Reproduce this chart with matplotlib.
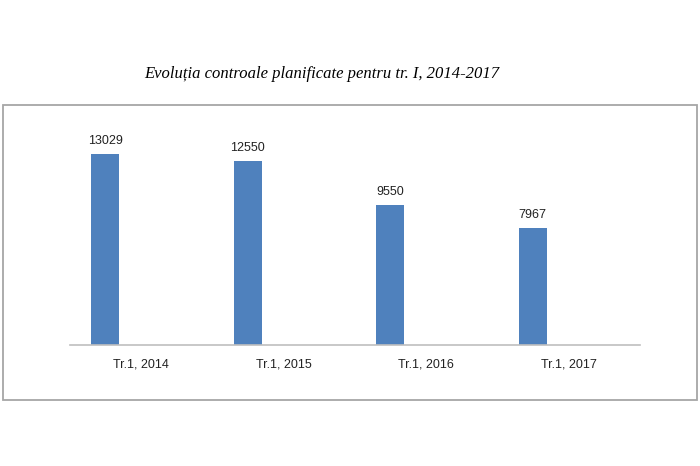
import numpy as np
import matplotlib
matplotlib.use("Agg")
import matplotlib.pyplot as plt
from matplotlib.patches import Rectangle

categories = ["Tr.1, 2014", "Tr.1, 2015", "Tr.1, 2016", "Tr.1, 2017"]
values = [13029, 12550, 9550, 7967]

fig = plt.figure(figsize=(7, 4.66), dpi=100)
fig.patch.set_facecolor("white")

# outer chart frame
fig.patches.append(Rectangle((3 / 700, 1 - 400 / 466), 694 / 700, 295 / 466,
                             transform=fig.transFigure, fill=False,
                             edgecolor="#a6a6a6", linewidth=1.3))

fig.text(322 / 700, 1 - 74 / 466,
         "Evoluția controale planificate pentru tr. I, 2014-2017",
         ha="center", va="center", fontsize=12, style="italic",
         family=["Liberation Serif", "DejaVu Serif"])

ax = fig.add_axes([70 / 700, 1 - 345 / 466, 570 / 700, 205 / 466])
x = np.arange(len(categories))
bars = ax.bar(x - 0.253, values, width=0.197, color="#4f81bd")
for xi, v in zip(x - 0.253, values):
    ax.text(xi, v + 500, str(v), ha="center", va="bottom", fontsize=9,
            family="Liberation Sans", color="#222222")

ax.set_xlim(-0.5, 3.5)
ax.set_ylim(0, 14000)
ax.set_xticks(x)
ax.set_xticklabels(categories, fontsize=9, family="Liberation Sans", color="#222222")
ax.tick_params(axis="x", length=0, pad=9.5)
ax.set_yticks([])
for s in ["top", "left", "right"]:
    ax.spines[s].set_visible(False)
ax.spines["bottom"].set_color("#bfbfbf")
ax.spines["bottom"].set_linewidth(1.2)

fig.savefig("out.png", dpi=100)
